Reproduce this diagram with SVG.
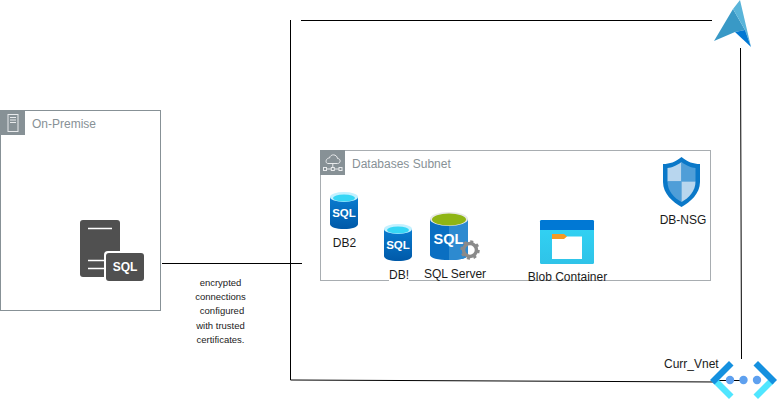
<svg xmlns="http://www.w3.org/2000/svg" xmlns:xlink="http://www.w3.org/1999/xlink" width="778" height="400" viewBox="0 0 778 400">
<style>
text{font-family:"Liberation Sans",Arial,sans-serif;font-size:12px;fill:#1a1a1a}
.grp{font-size:12px;fill:#879196}
.small{font-size:9.500px;text-anchor:middle;fill:#222}
.c{text-anchor:middle}
.conn{fill:none;stroke:#000;stroke-width:1}
.sqlw{font-weight:bold;fill:#fff;text-anchor:middle}
.vd{fill:#1490df}
.vl{fill:#50e6ff}
.vdot{fill:#5ea0ef}
</style>
<defs>
<linearGradient id="cyl" x1="0" y1="0" x2="0" y2="1"><stop offset="0" stop-color="#0a7cd0"/><stop offset="1" stop-color="#0059a8"/></linearGradient>
<linearGradient id="blob" x1="0" y1="0" x2="0" y2="1"><stop offset="0" stop-color="#32d4f5"/><stop offset="1" stop-color="#2fc3e8"/></linearGradient>
<g id="db">
<path d="M0 5V32C0 35 6 37 14 37S28 35 28 32V5Z" fill="url(#cyl)"/>
<ellipse cx="14" cy="5" rx="14" ry="5" fill="#c3f1ff"/>
<ellipse cx="14" cy="6" rx="11" ry="3.600" fill="#36d6f5"/>
<text class="sqlw" x="14" y="25" style="font-size:11.500px">SQL</text>
</g>
</defs>

<g id="connectors">
<path class="conn" d="M301 20.500H712"/>
<path class="conn" d="M290.500 20V380L720 382"/>
<path class="conn" d="M162 263.500H302"/>
<path class="conn" d="M740.500 48L741.500 359"/>
<path class="conn" d="M718 380.500H746"/>
</g>

<g id="on-premise">
<rect x="0.500" y="110.500" width="160" height="200" fill="#fff" stroke="#879196"/>
<rect x="0" y="110" width="25" height="25" fill="#879196"/>
<rect x="8" y="114.500" width="10" height="17" fill="none" stroke="#e8eaec"/>
<path d="M10 117.500H16M10 120H16M10 122.500H16" stroke="#e8eaec"/>
<text class="grp" x="32" y="128">On-Premise</text>
</g>

<g id="sql-onprem">
<rect x="80" y="220" width="40" height="57" rx="3" fill="#505050"/>
<path d="M88 228.500H112M88 260.500H104M88 268.500H104" stroke="#fff" stroke-width="1.500"/>
<rect x="104" y="251" width="41" height="32" rx="4" fill="#fff"/>
<rect x="106" y="253" width="38" height="28" rx="3" fill="#505050"/>
<text x="125" y="271" class="sqlw" style="font-size:12px">SQL</text>
</g>

<g id="label-encrypted">
<text class="small" x="220.500" y="286">encrypted</text>
<text class="small" x="220.500" y="300">connections</text>
<text class="small" x="222" y="314">configured</text>
<text class="small" x="220.500" y="329">with trusted</text>
<text class="small" x="220.500" y="343">certificates.</text>
</g>

<g id="databases-subnet">
<rect x="320.500" y="150.500" width="390" height="130" fill="#fff" stroke="#a8adb1"/>
<rect x="320" y="150" width="25" height="25" fill="#879196"/>
<path d="M328 163.500H337.500C341 163.500 341 158.500 337.500 158.500C337 154 330.500 153.500 329.500 158C325.500 158 325 163.500 328 163.500ZM332.800 163.500V169M325 169H340.500" fill="none" stroke="#e8eaec"/>
<rect x="323.500" y="167.500" width="3" height="3" fill="#879196" stroke="#e8eaec"/>
<rect x="331.300" y="167.500" width="3" height="3" fill="#879196" stroke="#e8eaec"/>
<rect x="339" y="167.500" width="3" height="3" fill="#879196" stroke="#e8eaec"/>
<text class="grp" x="352" y="168">Databases Subnet</text>
</g>

<g id="db2">
<use xlink:href="#db" href="#db" x="330" y="192"/>
<text class="c" x="344.500" y="247">DB2</text>
</g>

<g id="db1">
<use xlink:href="#db" href="#db" x="384" y="224"/>
<rect x="389" y="270" width="20" height="14" fill="#fff"/>
<text class="c" x="399" y="279">DB!</text>
</g>

<g id="sql-server">
<path d="M430 219V255C430 258 438 260 449 260S468 258 468 255V219Z" fill="#0a6fc2"/>
<path d="M449 222V260C460 260 468 258 468 255V219Z" fill="#2d8ad0"/>
<ellipse cx="449" cy="219" rx="19" ry="7" fill="#e8e8e8"/>
<ellipse cx="449" cy="219.500" rx="17" ry="6" fill="#8fb515"/>
<text class="sqlw" x="448.500" y="244" style="font-size:14.500px">SQL</text>
<circle cx="470" cy="250" r="6.500" fill="none" stroke="#8a8a8a" stroke-width="3.500"/>
<circle cx="470" cy="250" r="8.500" fill="none" stroke="#8a8a8a" stroke-width="2.500" stroke-dasharray="3 3.670"/>
<text class="c" x="455" y="278">SQL Server</text>
</g>

<g id="blob-container">
<rect x="540" y="220" width="54" height="44" rx="1.500" fill="url(#blob)"/>
<path d="M540 230V221.500Q540 220 541.500 220H592.500Q594 220 594 221.500V230Z" fill="#0078d4"/>
<rect x="552" y="236.500" width="30" height="22.500" fill="#fff"/>
<path d="M552 234H564L567 236.500L564 239H552Z" fill="#f59a23"/>
<text class="c" x="567.500" y="281">Blob Container</text>
</g>

<g id="db-nsg">
<path d="M681.500 157C675 162 670 164 663 164V182C663 194 673 202 681.500 207C690 202 700 194 700 182V164C693 164 688 162 681.500 157Z" fill="#0a78c8"/>
<path d="M681.500 162C676 166 672 167.500 667.500 168V181.500H681.500Z" fill="#b8d6ee"/>
<path d="M681.500 162C687 166 691 167.500 695.500 168V181.500H681.500Z" fill="#4f9ed8"/>
<path d="M667.500 181.500H681.500V202C674 198 667.500 191 667.500 181.500Z" fill="#4f9ed8"/>
<path d="M695.500 181.500H681.500V202C689 198 695.500 191 695.500 181.500Z" fill="#b8d6ee"/>
<text class="c" x="683" y="224">DB-NSG</text>
</g>

<g id="curr-vnet">
<text x="664" y="368">Curr_Vnet</text>
<path class="vl" d="M713 383L729 399L733.500 394.500L717.500 378.500Z"/>
<path class="vd" d="M710 380L729 361L733.500 365.500L714.500 384.500Z"/>
<path class="vl" d="M774 383L758 399L753.500 394.500L769.500 378.500Z"/>
<path class="vd" d="M777 380L758 361L753.500 365.500L772.500 384.500Z"/>
<circle class="vdot" cx="730" cy="380" r="4.200"/>
<circle class="vdot" cx="743.500" cy="380" r="4.200"/>
<circle class="vdot" cx="757" cy="380" r="4.200"/>
</g>

<g id="front-door">
<path d="M733 9L714 41L735 32L745 30Z" fill="#3999c6"/>
<path d="M740 0L733 9L745 30L751 47Z" fill="#59b4d9"/>
<path d="M735 32L745 30L751 47Z" fill="#0078d4"/>
</g>
</svg>
